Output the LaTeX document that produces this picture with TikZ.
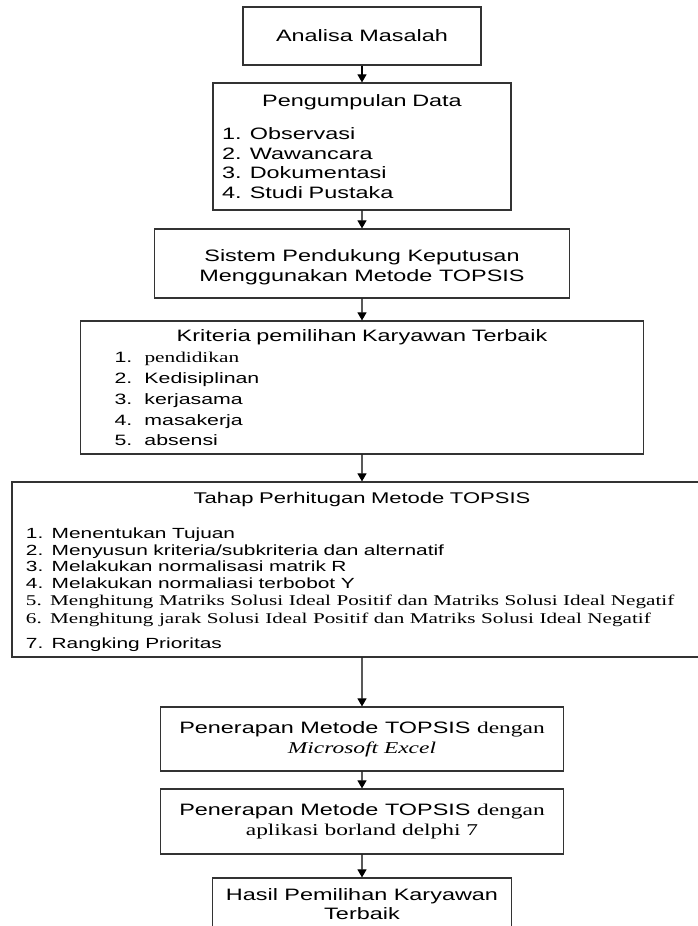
\documentclass[tikz,border=0pt]{standalone}
\usepackage{fontspec}
\setmainfont{Liberation Sans}[FakeStretch=1.42]
\newfontfamily\tms{Liberation Serif}[FakeStretch=1.42]
\usepackage{tikz}
\usetikzlibrary{arrows.meta}

\tikzset{
  box/.style={draw=black!80, line width=1.2pt, fill=white, align=center, inner sep=0pt,
    font=\fontsize{16.5}{20}\selectfont},
  listbox/.style={box, align=left},
  >={Triangle[length=8pt,width=9pt]},
  edge from parent/.style={draw, line width=1.1pt, ->}
}
\newcommand{\boxtitle}[1]{{\centering #1\par}}
\newcommand{\topgap}[1]{\rule{0pt}{#1}}

\begin{document}
\begin{tikzpicture}[x=1pt, y=-1pt]
\useasboundingbox (0,0) rectangle (698,926);
\node (analisa) at (362,36) [box, minimum width=238pt, minimum height=58pt] {Analisa Masalah}
  child[level distance=110.5pt] {node (data) [listbox, text width=280pt, minimum width=298pt,
        minimum height=127pt, font=\fontsize{16.5}{19.5}\selectfont] {%
      \boxtitle{Pengumpulan Data}\vspace{13.5pt}%
      1. Observasi\\2. Wawancara\\3. Dokumentasi\\4. Studi Pustaka}
    child[level distance=117pt] {node (spk) [box, minimum width=415pt, minimum height=69pt] {%
        \topgap{20pt}Sistem Pendukung Keputusan\\Menggunakan Metode TOPSIS}
      child[level distance=124pt] {node (kriteria) [listbox, text width=495pt, minimum width=563pt,
            minimum height=133pt] {%
          \boxtitle{Kriteria pemilihan Karyawan Terbaik}%
          \fontsize{15}{21}\selectfont
          \makebox[30pt][l]{1.}{\tms pendidikan}\\
          \makebox[30pt][l]{2.}Kedisiplinan\\
          \makebox[30pt][l]{3.}kerjasama\\
          \makebox[30pt][l]{4.}masakerja\\
          \makebox[30pt][l]{5.}absensi}
        child[level distance=182pt] {node (tahap) [listbox, text width=672pt, minimum width=700pt,
              minimum height=175pt] {%
            \boxtitle{\fontsize{15.5}{19}\selectfont\topgap{16pt}Tahap Perhitugan Metode TOPSIS}%
            \fontsize{14.7}{16.5}\selectfont\vspace{18.5pt}%
            1. Menentukan Tujuan\\
            2. Menyusun kriteria/subkriteria dan alternatif\\
            3. Melakukan normalisasi matrik R\\
            4. Melakukan normaliasi terbobot Y\\[1pt]
            {\tms\fontsize{14.9}{16.5}\selectfont 5. Menghitung Matriks Solusi Ideal Positif dan Matriks Solusi Ideal Negatif}\\[1.5pt]
            {\tms\fontsize{14.9}{16.5}\selectfont 6. Menghitung jarak Solusi Ideal Positif dan Matriks Solusi Ideal Negatif}\\[4.5pt]
            7. Rangking Prioritas}
          child[level distance=169.5pt] {node (excel) [box, minimum width=403pt, minimum height=64pt] {%
              Penerapan Metode TOPSIS {\tms dengan}\\{\tms\itshape Microsoft Excel}}
            child[level distance=82.5pt] {node (delphi) [box, minimum width=403pt, minimum height=65pt] {%
                Penerapan Metode TOPSIS {\tms dengan}\\{\tms aplikasi borland delphi 7}}
              child[level distance=82.5pt] {node (hasil) [box, minimum width=299pt, minimum height=52pt,
                    font=\fontsize{16.5}{19.5}\selectfont] {%
                  Hasil Pemilihan Karyawan\\Terbaik}}
            }
          }
        }
      }
    }
  };
\end{tikzpicture}
\end{document}
